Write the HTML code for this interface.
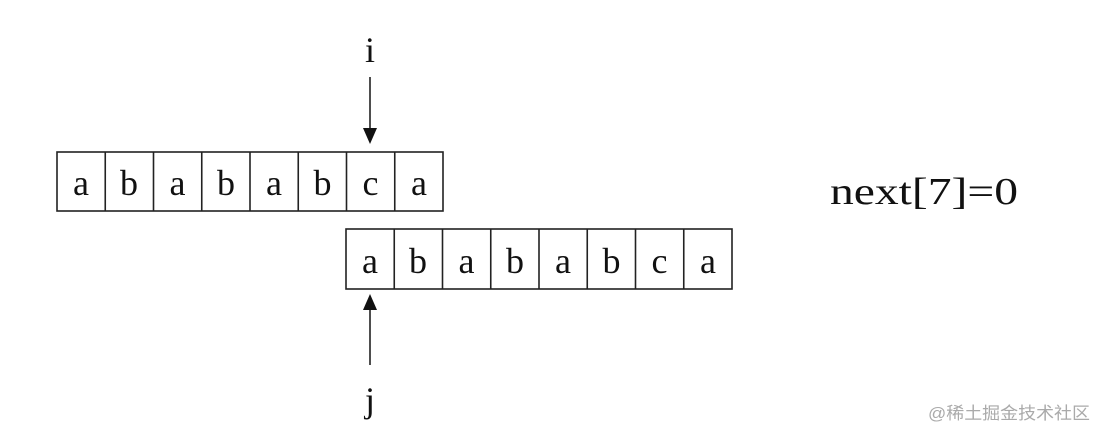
<!DOCTYPE html>
<html><head><meta charset="utf-8"><style>
body{margin:0;width:1096px;height:433px;background:#fff;overflow:hidden}
</style></head><body>
<svg width="1096" height="433" xmlns="http://www.w3.org/2000/svg" font-family="Liberation Serif, serif">
<g fill="none" stroke="#222" stroke-width="1.6">
<rect x="57" y="152" width="386" height="59"/>
<line x1="105.25" y1="152" x2="105.25" y2="211"/><line x1="153.5" y1="152" x2="153.5" y2="211"/><line x1="201.75" y1="152" x2="201.75" y2="211"/><line x1="250" y1="152" x2="250" y2="211"/><line x1="298.25" y1="152" x2="298.25" y2="211"/><line x1="346.5" y1="152" x2="346.5" y2="211"/><line x1="394.75" y1="152" x2="394.75" y2="211"/>
<rect x="346" y="229" width="386" height="60"/>
<line x1="394.25" y1="229" x2="394.25" y2="289"/><line x1="442.5" y1="229" x2="442.5" y2="289"/><line x1="490.75" y1="229" x2="490.75" y2="289"/><line x1="539" y1="229" x2="539" y2="289"/><line x1="587.25" y1="229" x2="587.25" y2="289"/><line x1="635.5" y1="229" x2="635.5" y2="289"/><line x1="683.75" y1="229" x2="683.75" y2="289"/>
<line x1="370" y1="77" x2="370" y2="130"/>
<line x1="370" y1="308" x2="370" y2="365"/>
</g>
<polygon points="363,128 377,128 370,144" fill="#111"/>
<polygon points="363,310 377,310 370,294" fill="#111"/>
<g font-size="36" fill="#111" text-anchor="middle">
<text x="370" y="62">i</text>
<text x="370" y="412">j</text>
<text x="81" y="195">a</text><text x="129" y="195">b</text><text x="177.5" y="195">a</text><text x="226" y="195">b</text><text x="274" y="195">a</text><text x="322.5" y="195">b</text><text x="370.5" y="195">c</text><text x="419" y="195">a</text>
<text x="370" y="273">a</text><text x="418" y="273">b</text><text x="466.5" y="273">a</text><text x="515" y="273">b</text><text x="563" y="273">a</text><text x="611.5" y="273">b</text><text x="659.5" y="273">c</text><text x="708" y="273">a</text>
</g>
<text x="830" y="204" font-size="38" fill="#111" textLength="188" lengthAdjust="spacingAndGlyphs">next[7]=0</text>
<text x="928" y="419" font-size="17" fill="#aaa" font-family="Liberation Sans, Noto Sans CJK SC, sans-serif" textLength="162" lengthAdjust="spacingAndGlyphs">@稀土掘金技术社区</text>
</svg>
</body></html>
